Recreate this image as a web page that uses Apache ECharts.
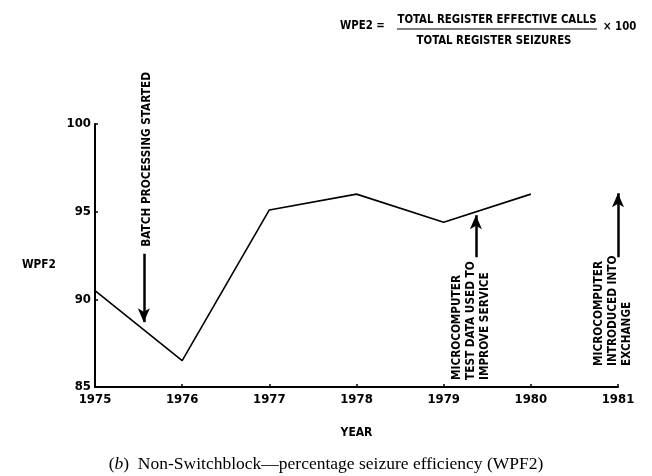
<!DOCTYPE html>
<html><head><meta charset="utf-8">
<script src="https://cdn.jsdelivr.net/npm/echarts@6/dist/echarts.min.js"></script>
<style>html,body{margin:0;padding:0;background:#fff}#c{width:652px;height:476px}</style>
</head><body><div id="c"></div>
<script>
const years = [1975, 1976, 1977, 1978, 1979, 1980];
const wpf2 = [90.5, 86.5, 95.1, 96.0, 94.4, 96.0];
const xTicks = [1975, 1976, 1977, 1978, 1979, 1980, 1981];
const yTicks = [85, 90, 95, 100];
const arrowYears = [1975.56, 1979.37, 1981];
const arrowFrom = [92.6, 92.4, 92.4];
const arrowTo = [88.7, 94.8, 96.05];
const noteTexts = ['BATCH PROCESSING STARTED', 'MICROCOMPUTER\nTEST DATA USED TO\nIMPROVE SERVICE', 'MICROCOMPUTER\nINTRODUCED INTO\nEXCHANGE'];
const noteBottom = [93.0, 85.4, 86.2];

const FONT = '"DejaVu Sans Condensed", "Liberation Sans Narrow", sans-serif';
const chart = echarts.init(document.getElementById('c'));

const arrowLines = arrowYears.map((x, i) => [
  { coord: [x, arrowFrom[i]], symbol: 'none' },
  { coord: [x, arrowTo[i]], symbol: 'arrow' }
]);

chart.setOption({
  animation: false,
  grid: { left: 95, right: 34, top: 124, bottom: 89 },
  xAxis: {
    type: 'value', min: 1975, max: 1981, interval: 1,
    axisLine: { lineStyle: { color: '#000', width: 2 } },
    axisTick: { inside: true, length: 3, lineStyle: { color: '#000', width: 1.5 } },
    splitLine: { show: false },
    axisLabel: { color: '#000', fontFamily: FONT, fontWeight: 'bold', fontSize: 13, margin: 6,
      formatter: v => String(v) },
    name: 'YEAR', nameLocation: 'middle', nameGap: 40,
    nameTextStyle: { color: '#000', fontFamily: FONT, fontWeight: 'bold', fontSize: 12 }
  },
  yAxis: {
    type: 'value', min: 85, max: 100, interval: 5,
    axisLine: { show: true, lineStyle: { color: '#000', width: 2 } },
    axisTick: { show: true, inside: true, length: 3, lineStyle: { color: '#000', width: 1.5 } },
    splitLine: { show: false },
    axisLabel: { color: '#000', fontFamily: FONT, fontWeight: 'bold', fontSize: 13, margin: 4 }
  },
  series: [{
    type: 'line',
    data: years.map((y, i) => [y, wpf2[i]]),
    symbol: 'none',
    lineStyle: { color: '#000', width: 1.6 },
    markLine: {
      silent: true,
      symbolSize: [9, 14],
      label: { show: false },
      lineStyle: { color: '#000', width: 2.5, type: 'solid' },
      data: arrowLines
    }
  }]
});

const notes = noteTexts.map((t, i) => {
  const p = chart.convertToPixel({ gridIndex: 0 }, [arrowYears[i], noteBottom[i]]);
  const lines = t.split('\n').length;
  const xoff = lines === 1 ? -4 : -26;
  return {
    type: 'text', x: p[0] + xoff, y: p[1], rotation: Math.PI / 2, scaleX: 0.9,
    style: { text: t, x: 0, y: 0, align: 'left', verticalAlign: 'top',
      font: 'bold 13px ' + FONT, lineHeight: 14, fill: '#000' }
  };
});

const S = 0.87;
chart.setOption({
  graphic: notes.concat([
    { type: 'text', x: 22, y: 258, scaleX: 0.9, style: { text: 'WPF2', font: 'bold 13px ' + FONT, fill: '#000' } },
    { type: 'text', x: 340, y: 19, scaleX: S, style: { text: 'WPE2 =', font: 'bold 13px ' + FONT, fill: '#000' } },
    { type: 'text', x: 497, y: 13, scaleX: S, style: { text: 'TOTAL REGISTER EFFECTIVE CALLS', align: 'center', font: 'bold 13px ' + FONT, fill: '#000' } },
    { type: 'line', shape: { x1: 397, y1: 29, x2: 597, y2: 29 }, style: { stroke: '#000', lineWidth: 1.2 } },
    { type: 'text', x: 494, y: 34, scaleX: S, style: { text: 'TOTAL REGISTER SEIZURES', align: 'center', font: 'bold 13px ' + FONT, fill: '#000' } },
    { type: 'text', x: 603, y: 20, scaleX: S, style: { text: '× 100', font: 'bold 13px ' + FONT, fill: '#000' } },
    { type: 'text', x: 326, y: 455, style: {
      text: '({i|b})  Non-Switchblock—percentage seizure efficiency (WPF2)', align: 'center',
      font: '17.5px "Liberation Serif", serif', fill: '#000',
      rich: { i: { fontStyle: 'italic', fontFamily: '"Liberation Serif", serif', fontSize: 17.5 } } } }
  ])
});
</script></body></html>
